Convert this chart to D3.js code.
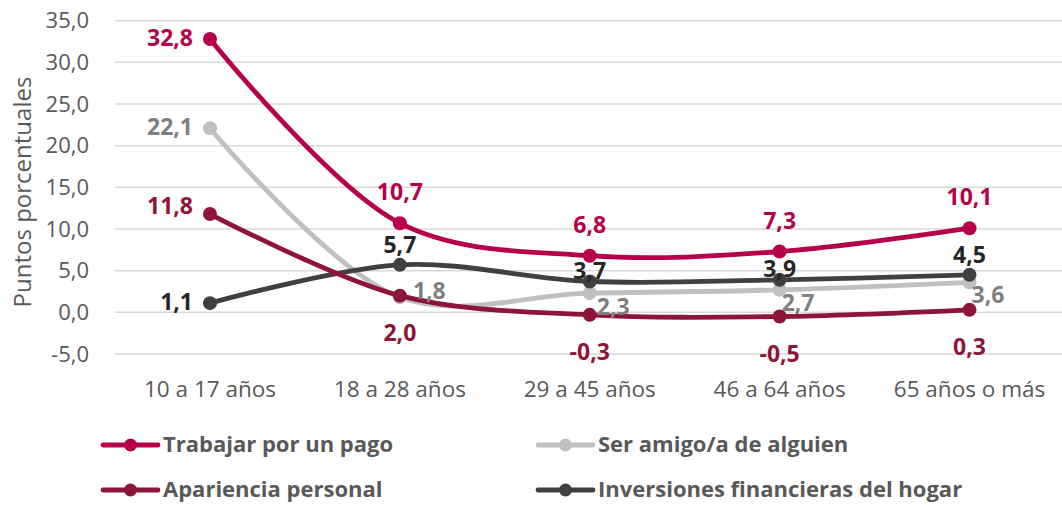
<!DOCTYPE html>
<html><head><meta charset="utf-8">
<script src="https://cdn.jsdelivr.net/npm/d3@7"></script>
<style>body{margin:0;background:#fff}svg{display:block}text{font-family:"Open Sans",sans-serif}</style>
</head><body><svg id="c" width="1062" height="505"></svg>
<script>
const categories = ["10 a 17 años","18 a 28 años","29 a 45 años","46 a 64 años","65 años o más"];
const yTicks = [-5,0,5,10,15,20,25,30,35];
const trabajar = [32.8,10.7,6.8,7.3,10.1];
const amigo = [22.1,1.8,2.3,2.7,3.6];
const apariencia = [11.8,2.0,-0.3,-0.5,0.3];
const inversiones = [1.1,5.7,3.7,3.9,4.5];
const seriesNames = ["Trabajar por un pago","Ser amigo/a de alguien","Apariencia personal","Inversiones financieras del hogar"];

// styles / layout
const styles = [
  {line:"#B7004A", label:"#B7004A", pos:["left","top","top","top","top"]},
  {line:"#C0C0C0", label:"#7F7F7F", pos:["left","r1","r2","r3","r3"]},
  {line:"#8C1539", label:"#8C1539", pos:["left2","bottom","bottom","bottom","bottom"]},
  {line:"#404040", label:"#262626", pos:["left","t2","t3","t3","t2"]}
];
const seriesData = [trabajar, amigo, apariencia, inversiones];
const drawOrder = [1,3,2,0];

const svg = d3.select("#c");
const x = d3.scalePoint().domain(categories).range([210,969.5]);
const y = d3.scaleLinear().domain([-5,35]).range([354,20.7]);

// grid
svg.append("g").selectAll("line").data(yTicks).join("line")
  .attr("x1",115).attr("x2",1062).attr("y1",d=>y(d)).attr("y2",d=>y(d))
  .attr("stroke","#D9D9D9").attr("stroke-width",1.5);

const fmt = v => d3.format(".1f")(v).replace(".",",").replace("−","-");

// y axis labels
svg.append("g").selectAll("text").data(yTicks).join("text")
  .attr("x",89).attr("y",d=>y(d)).attr("dy","0.35em").attr("text-anchor","end")
  .attr("fill","#595959").style("font-size","22px").text(d=>fmt(d));

svg.append("text").attr("transform","translate(23,192) rotate(-90)")
  .attr("text-anchor","middle").attr("dy","0.35em").attr("fill","#595959")
  .style("font-size","24px").text("Puntos porcentuales");

// x axis labels
svg.append("g").selectAll("text").data(categories).join("text")
  .attr("x",d=>x(d)).attr("y",389).attr("dy","0.35em").attr("text-anchor","middle")
  .attr("fill","#595959").style("font-size","22.5px").text(d=>d);

const line = d3.line().x((d,i)=>x(categories[i])).y(d=>y(d)).curve(d3.curveCatmullRom.alpha(0.5));

drawOrder.forEach(s=>{
  const g = svg.append("g");
  g.append("path").datum(seriesData[s]).attr("d",line).attr("fill","none")
    .attr("stroke",styles[s].line).attr("stroke-width",4.8).attr("stroke-linecap","round");
  g.selectAll("circle").data(seriesData[s]).join("circle")
    .attr("cx",(d,i)=>x(categories[i])).attr("cy",d=>y(d)).attr("r",7)
    .attr("fill",styles[s].line);
});

const off = {left:[-17,-1,"end"], left2:[-17,-8,"end"], top:[0,-31,"middle"], bottom:[0,37,"middle"],
  r1:[13,-6,"start"], r2:[7,14,"start"], r3:[2,13,"start"], t2:[0,-20,"middle"], t3:[0,-11,"middle"]};
[0,1,2,3].forEach(s=>{
  svg.append("g").selectAll("text").data(seriesData[s]).join("text")
    .attr("x",(d,i)=>x(categories[i])+off[styles[s].pos[i]][0])
    .attr("y",(d,i)=>y(d)+off[styles[s].pos[i]][1])
    .attr("dy","0.35em").attr("text-anchor",(d,i)=>off[styles[s].pos[i]][2])
    .attr("fill",styles[s].label).style("font-size","23px").style("font-weight","700")
    .text(d=>fmt(d));
});

// legend
const legPos = [[103,445],[538,445],[103,490],[538,490]];
seriesNames.forEach((n,s)=>{
  const [lx,ly] = legPos[s];
  const g = svg.append("g");
  g.append("line").attr("x1",lx).attr("x2",lx+55).attr("y1",ly).attr("y2",ly)
    .attr("stroke",styles[s].line).attr("stroke-width",4.8).attr("stroke-linecap","round");
  g.append("circle").attr("cx",lx+27.5).attr("cy",ly).attr("r",6.5).attr("fill",styles[s].line);
  g.append("text").attr("x",lx+60).attr("y",ly).attr("dy","0.33em")
    .attr("fill","#595959").style("font-size","22px").style("font-weight","700").text(n);
});
</script></body></html>
